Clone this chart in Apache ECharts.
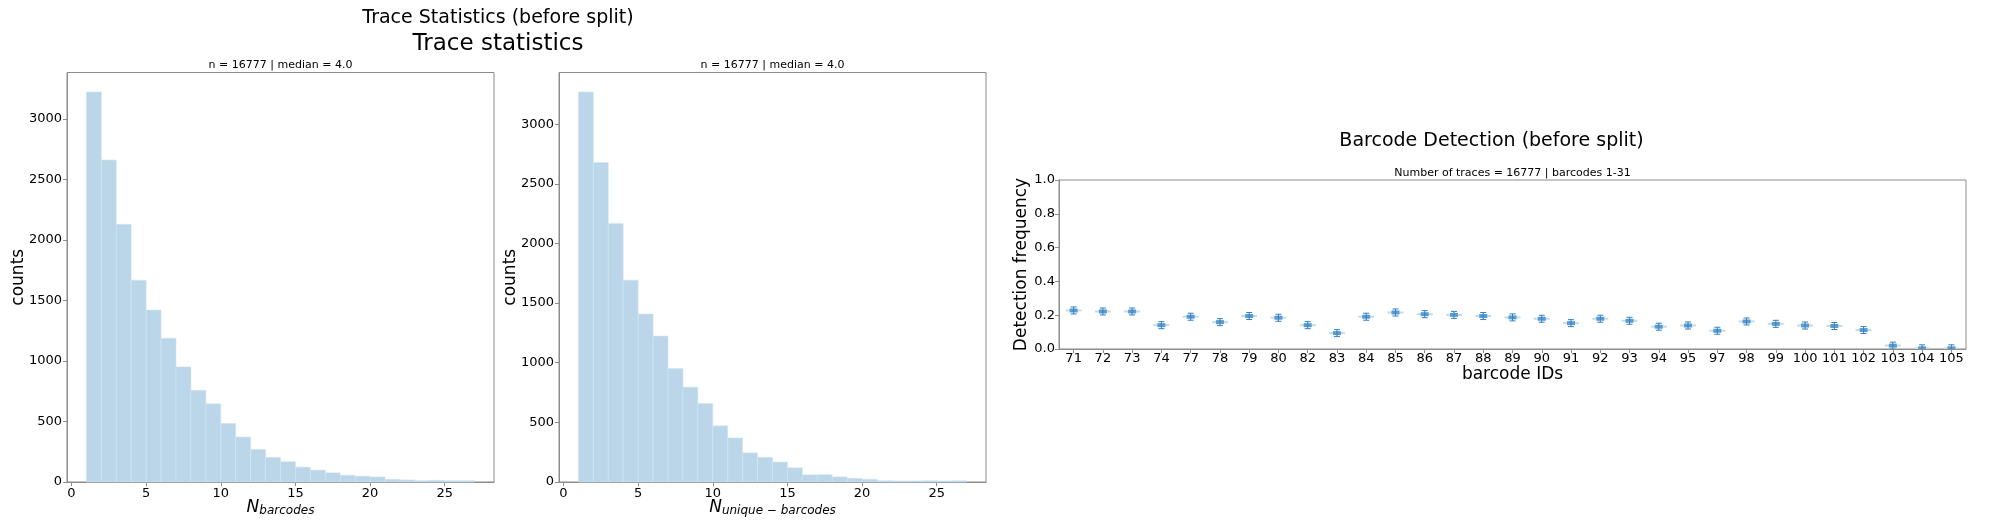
<!DOCTYPE html>
<html>
<head>
<meta charset="utf-8">
<script src="https://cdn.jsdelivr.net/npm/echarts@6/dist/echarts.min.js"></script>
<style>
  html, body { margin: 0; padding: 0; background: #fff; }
  #chart { width: 1990px; height: 531px; }
</style>
</head>
<body>
<div id="chart"></div>
<script>
// histogram bins (width 1, from 1 to 27)
const binEdges = [1, 2, 3, 4, 5, 6, 7, 8, 9, 10, 11, 12, 13, 14, 15, 16, 17, 18, 19, 20, 21, 22, 23, 24, 25, 26, 27]
const barcodeCounts = [3224, 2661, 2130, 1668, 1422, 1189, 951, 758, 646, 484, 372, 269, 204, 168, 123, 98, 76, 56, 48, 42, 22, 17, 11, 14, 11, 11]
const uniqueCounts = [3270, 2679, 2168, 1692, 1408, 1223, 951, 795, 658, 471, 369, 244, 207, 167, 119, 60, 62, 43, 31, 23, 11, 9, 9, 11, 9, 11]
const histXTicks = [0, 5, 10, 15, 20, 25]
const histYTicks = [0, 500, 1000, 1500, 2000, 2500, 3000]

// barcode detection
const barcodeIds = ['71', '72', '73', '74', '77', '78', '79', '80', '82', '83', '84', '85', '86', '87', '88', '89',
  '90', '91', '92', '93', '94', '95', '97', '98', '99', '100', '101', '102', '103', '104', '105']
const detectionFreq = [0.228, 0.222, 0.222, 0.141, 0.191, 0.159, 0.195, 0.185, 0.141, 0.094, 0.191, 0.216, 0.206,
  0.202, 0.195, 0.187, 0.179, 0.153, 0.179, 0.167, 0.132, 0.139, 0.108, 0.163, 0.149, 0.139, 0.136, 0.112,
  0.020, 0.004, 0.004]

const FONT = 'DejaVu Sans'
const AXIS_COLOR = '#8c8c8c'
const TICK_SIZE = 13

const chart = echarts.init(document.getElementById('chart'))

function histXAxis(gridIndex, name) {
  return {
    type: 'value', gridIndex: gridIndex, min: -0.3, max: 28.3,
    name: name, nameLocation: 'middle', nameGap: 17.5, nameMoveOverlap: false,
    nameTextStyle: {
      rich: {
        n: { fontFamily: FONT, fontSize: 17, fontStyle: 'italic', color: '#000', lineHeight: 17 },
        s: { fontFamily: FONT, fontSize: 12, fontStyle: 'italic', color: '#000', lineHeight: 8, verticalAlign: 'bottom' }
      }
    },
    axisLine: { show: true, onZero: false, lineStyle: { color: AXIS_COLOR } },
    axisTick: { show: true, length: 4, customValues: histXTicks, lineStyle: { color: AXIS_COLOR } },
    axisLabel: { customValues: histXTicks, margin: 5, fontFamily: FONT, fontSize: TICK_SIZE, color: '#000' },
    splitLine: { show: false }
  }
}

function histYAxis(gridIndex, max) {
  return {
    type: 'value', gridIndex: gridIndex, min: 0, max: max,
    name: 'counts', nameLocation: 'middle', nameGap: 40, nameMoveOverlap: false,
    nameTextStyle: { fontFamily: FONT, fontSize: 17, color: '#000' },
    axisLine: { show: true, onZero: false, lineStyle: { color: AXIS_COLOR } },
    axisTick: { show: true, length: 4, customValues: histYTicks, lineStyle: { color: AXIS_COLOR } },
    axisLabel: { customValues: histYTicks, margin: 5, fontFamily: FONT, fontSize: TICK_SIZE, color: '#000', formatter: v => String(v) },
    splitLine: { show: false }
  }
}

function histSeries(index, counts) {
  return {
    type: 'custom', xAxisIndex: index, yAxisIndex: index,
    encode: { x: [0, 1], y: 2 },
    data: counts.map((c, i) => [binEdges[i], binEdges[i + 1], c]),
    renderItem(params, api) {
      const p0 = api.coord([api.value(0), api.value(2)])
      const p1 = api.coord([api.value(1), 0])
      return {
        type: 'rect',
        shape: { x: p0[0], y: p0[1], width: p1[0] - p0[0], height: p1[1] - p0[1] },
        style: { fill: '#bad6e8', stroke: '#d3e4f1', lineWidth: 0.6 }
      }
    }
  }
}

function label(text, x, y, size) {
  return {
    type: 'text', x: x, y: y,
    style: { text: text, fontFamily: FONT, fontSize: size, fill: '#000', align: 'center', verticalAlign: 'middle' }
  }
}

chart.setOption({
  animation: false,
  backgroundColor: '#fff',
  graphic: [
    label('Trace Statistics (before split)', 498, 18.5, 19),
    label('Trace statistics', 498, 44, 23),
    label('n = 16777 | median = 4.0', 280.5, 65, 11),
    label('n = 16777 | median = 4.0', 772.5, 65, 11),
    label('Barcode Detection (before split)', 1491.5, 141, 19),
    label('Number of traces = 16777 | barcodes 1-31', 1512.5, 173.5, 11)
  ],
  grid: [
    { left: 67, top: 72.5, width: 427, height: 409.5, show: true, borderColor: AXIS_COLOR, borderWidth: 1 },
    { left: 559, top: 72.5, width: 427, height: 409.5, show: true, borderColor: AXIS_COLOR, borderWidth: 1 },
    { left: 1059, top: 180, width: 907, height: 169, show: true, borderColor: AXIS_COLOR, borderWidth: 1 }
  ],
  xAxis: [
    histXAxis(0, '{n|N}{s|barcodes}'),
    histXAxis(1, '{n|N}{s|unique − barcodes}'),
    {
      type: 'category', gridIndex: 2, data: barcodeIds, boundaryGap: true,
      name: 'barcode IDs', nameLocation: 'middle', nameGap: 17, nameMoveOverlap: false,
      nameTextStyle: { fontFamily: FONT, fontSize: 17, color: '#000' },
      axisLine: { show: true, lineStyle: { color: AXIS_COLOR } },
      axisTick: { show: true, alignWithLabel: true, length: 4, lineStyle: { color: AXIS_COLOR } },
      axisLabel: { interval: 0, margin: 3, fontFamily: FONT, fontSize: TICK_SIZE, color: '#000' },
      splitLine: { show: false }
    }
  ],
  yAxis: [
    histYAxis(0, 3385),
    histYAxis(1, 3433),
    {
      type: 'value', gridIndex: 2, min: 0, max: 1, interval: 0.2,
      name: 'Detection frequency', nameLocation: 'middle', nameGap: 29, nameMoveOverlap: false,
      nameTextStyle: { fontFamily: FONT, fontSize: 17, color: '#000' },
      axisLine: { show: true, lineStyle: { color: AXIS_COLOR } },
      axisTick: { show: true, length: 4, lineStyle: { color: AXIS_COLOR } },
      axisLabel: { margin: 4, fontFamily: FONT, fontSize: TICK_SIZE, color: '#000', formatter: v => v.toFixed(1) },
      splitLine: { show: false }
    }
  ],
  series: [
    histSeries(0, barcodeCounts),
    histSeries(1, uniqueCounts),
    {
      type: 'custom', xAxisIndex: 2, yAxisIndex: 2,
      encode: { x: 0, y: 1 },
      data: detectionFreq.map((v, i) => [i, v]),
      clip: true,
      renderItem(params, api) {
        const p = api.coord([api.value(0), api.value(1)])
        const dark = '#3182c2'
        return {
          type: 'group',
          children: [
            { type: 'rect', shape: { x: p[0] - 8, y: p[1] - 1, width: 16, height: 2 }, style: { fill: '#c3dbef' } },
            { type: 'rect', shape: { x: p[0] - 4, y: p[1] - 2, width: 8, height: 4 }, style: { fill: '#5b9bd0' } },
            { type: 'line', shape: { x1: p[0], y1: p[1] - 3.5, x2: p[0], y2: p[1] + 3.5 }, style: { stroke: dark, lineWidth: 1 } },
            { type: 'line', shape: { x1: p[0] - 3, y1: p[1] - 3.5, x2: p[0] + 3, y2: p[1] - 3.5 }, style: { stroke: dark, lineWidth: 1 } },
            { type: 'line', shape: { x1: p[0] - 3, y1: p[1] + 3.5, x2: p[0] + 3, y2: p[1] + 3.5 }, style: { stroke: dark, lineWidth: 1 } }
          ]
        }
      }
    }
  ]
})
</script>
</body>
</html>
